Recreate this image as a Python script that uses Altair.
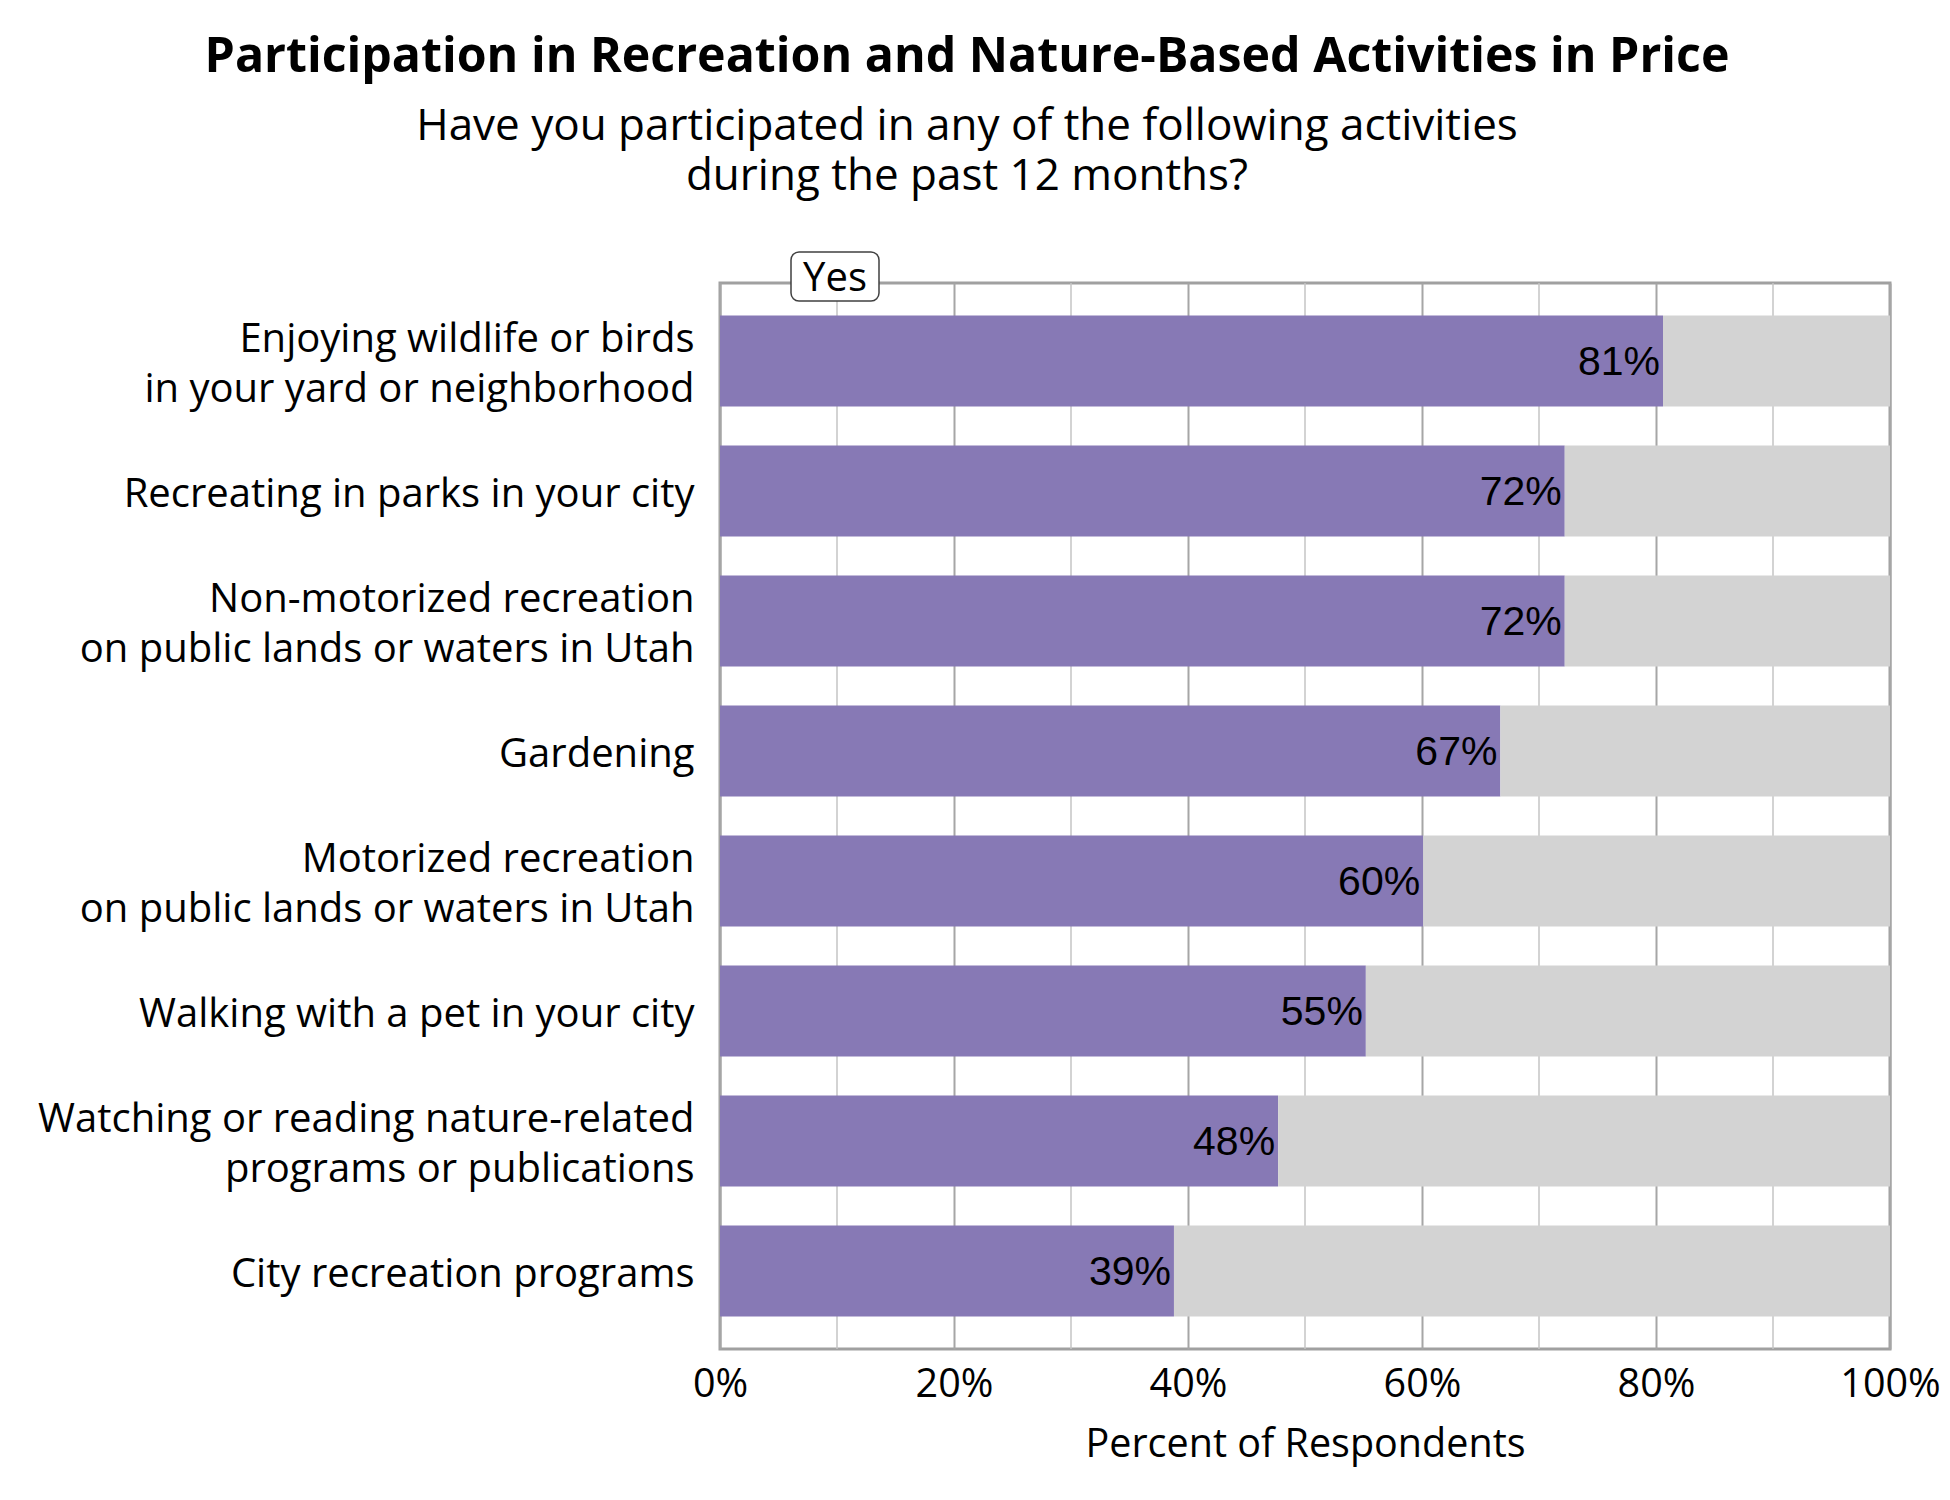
import altair as alt
import pandas as pd

categories = [
    "Enjoying wildlife or birds|in your yard or neighborhood",
    "Recreating in parks in your city",
    "Non-motorized recreation|on public lands or waters in Utah",
    "Gardening",
    "Motorized recreation|on public lands or waters in Utah",
    "Walking with a pet in your city",
    "Watching or reading nature-related|programs or publications",
    "City recreation programs",
]
yes_values = [80.6, 72.2, 72.2, 66.7, 60.1, 55.2, 47.7, 38.8]
major_ticks = [0, 20, 40, 60, 80, 100]
minor_ticks = [10, 30, 50, 70, 90]
segments = ["Yes", "No"]
segment_colors = ["#8779b5", "#d3d3d3"]
annotation = ["Yes"]

FONT = "Open Sans"

rows = []
for c, v in zip(categories, yes_values):
    rows.append({"category": c, "segment": "Yes", "start": 0, "end": v, "yes": v / 100})
    rows.append({"category": c, "segment": "No", "start": v, "end": 100, "yes": v / 100})
df = pd.DataFrame(rows)
df_yes = df[df.segment == "Yes"]
df_minor = pd.DataFrame({"v": minor_ticks})
df_ann = pd.DataFrame({"label": annotation})

xscale = alt.Scale(domain=[0, 100], nice=False)
yscale = alt.Scale(paddingInner=0.3, paddingOuter=0.25)

y_enc = alt.Y(
    "category:N",
    sort=categories,
    scale=yscale,
    title=None,
    axis=alt.Axis(
        labelExpr="split(datum.label, '|')",
        labelFont=FONT,
        labelFontSize=40,
        labelLineHeight=50,
        labelColor="black",
        labelPadding=26,
        labelLimit=0,
        labelOffset={
            "condition": {"test": "indexof(datum.label, '|') >= 0", "value": -21},
            "value": 4,
        },
        ticks=False,
        domain=False,
        grid=False,
    ),
)

x_axis = alt.Axis(
    values=major_ticks,
    labelExpr="datum.value + '%'",
    labelFont=FONT,
    labelFontSize=39.5,
    labelColor="black",
    labelPadding=16,
    labelFlush=False,
    labelOverlap=False,
    ticks=False,
    domain=False,
    grid=True,
    gridColor="#a6a6a6",
    gridWidth=2,
    title="Percent of Respondents",
    titleFont=FONT,
    titleFontSize=39.5,
    titleFontWeight="normal",
    titleColor="black",
    titlePadding=22,
)

minor = alt.Chart(df_minor).mark_rule(color="#c4c4c4", strokeWidth=1.5).encode(
    x=alt.X("v:Q", scale=xscale, axis=x_axis)
)

bars = alt.Chart(df).mark_bar().encode(
    x=alt.X("start:Q", scale=xscale, axis=x_axis),
    x2="end:Q",
    y=y_enc,
    color=alt.Color(
        "segment:N",
        scale=alt.Scale(domain=segments, range=segment_colors),
        legend=None,
    ),
)

labels = alt.Chart(df_yes).mark_text(
    align="right", baseline="middle", dx=-3, dy=2,
    font="Liberation Sans", fontSize=41, color="black",
).encode(
    x=alt.X("end:Q", scale=xscale),
    y=alt.Y("category:N", sort=categories, scale=yscale),
    text=alt.Text("yes:Q", format=".0%"),
)

ann_box = alt.Chart(df_ann).mark_rect(
    fill="white", stroke="#404040", strokeWidth=1.5, cornerRadius=8
).encode(
    x=alt.value(71), x2=alt.value(159), y=alt.value(-31), y2=alt.value(18)
)
ann_text = alt.Chart(df_ann).mark_text(
    font=FONT, fontSize=40, color="black", align="center", baseline="middle"
).encode(
    x=alt.value(115), y=alt.value(-4), text="label:N"
)

chart = (
    alt.layer(minor, bars, labels, ann_box, ann_text)
    .properties(
        width=1170,
        height=1066,
        padding={"left": 712, "top": 275, "right": 52, "bottom": 140},
        autosize=alt.AutoSizeParams(type="none"),
        title=alt.TitleParams(
            text="Participation in Recreation and Nature-Based Activities in Price",
            subtitle=["Have you participated in any of the following activities",
                      "during the past 12 months?"],
            font=FONT,
            fontSize=48.3,
            fontWeight="bold",
            color="black",
            subtitleFont=FONT,
            subtitleFontSize=44,
            subtitleColor="black",
            subtitleLineHeight=50,
            subtitlePadding=23,
            anchor="middle",
            dx=-338,
            offset=51,
        ),
    )
    .configure_view(stroke="#a0a0a0", strokeWidth=3)
)

chart.save("out.html", embed_options={"renderer": "svg", "actions": False})
